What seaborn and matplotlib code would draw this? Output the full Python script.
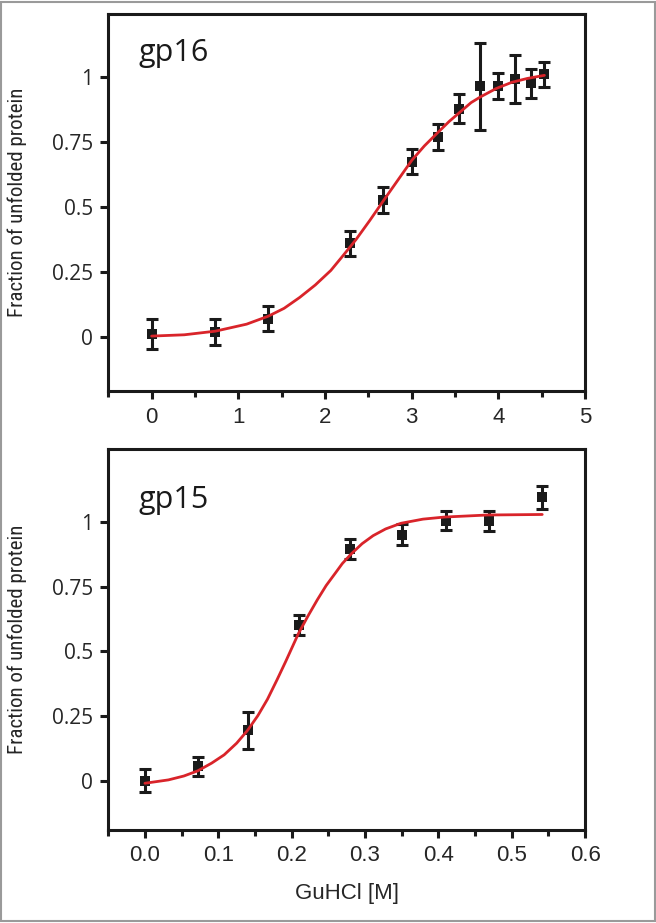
import numpy as np
import pandas as pd
import seaborn as sns
import matplotlib.pyplot as plt
from matplotlib import font_manager
from matplotlib.patches import Rectangle
from matplotlib.ticker import MultipleLocator

# gp16 measured points (GuHCl [M], fraction unfolded, error)
gp16_x = [0.0, 0.73, 1.34, 2.29, 2.67, 3.0, 3.30, 3.55, 3.79, 4.0, 4.19, 4.37, 4.53]
gp16_y = [0.012, 0.02, 0.07, 0.36, 0.529, 0.675, 0.772, 0.88, 0.966, 0.966, 0.993, 0.977, 1.012]
gp16_err = [0.057, 0.05, 0.049, 0.049, 0.05, 0.049, 0.05, 0.057, 0.167, 0.05, 0.093, 0.057, 0.049]

# gp16 fitted curve
gp16_fit_x = [0.0, 0.377, 0.737, 1.096, 1.348, 1.528, 1.708, 1.888, 2.067, 2.21, 2.355, 2.517,
              2.678, 2.84, 3.002, 3.146, 3.29, 3.434, 3.577, 3.685, 3.793, 3.973, 4.153, 4.333, 4.53]
gp16_fit_y = [0.003, 0.008, 0.022, 0.049, 0.08, 0.11, 0.152, 0.2, 0.256, 0.314, 0.374, 0.449,
              0.527, 0.604, 0.681, 0.736, 0.784, 0.831, 0.872, 0.903, 0.925, 0.957, 0.981, 0.996, 1.008]

# gp15 measured points
gp15_x = [0.0, 0.072, 0.141, 0.210, 0.280, 0.350, 0.410, 0.469, 0.5415]
gp15_y = [0.0, 0.055, 0.195, 0.603, 0.897, 0.951, 1.006, 1.006, 1.097]
gp15_err = [0.044, 0.038, 0.071, 0.039, 0.038, 0.041, 0.037, 0.038, 0.044]

# gp15 fitted curve
gp15_fit_x = [0.0, 0.032, 0.053, 0.072, 0.091, 0.108, 0.125, 0.14, 0.154, 0.167, 0.18, 0.192,
              0.209, 0.222, 0.235, 0.247, 0.26, 0.269, 0.281, 0.296, 0.311, 0.328, 0.349,
              0.379, 0.408, 0.467, 0.5415]
gp15_fit_y = [-0.01, 0.003, 0.018, 0.038, 0.068, 0.1, 0.145, 0.195, 0.252, 0.315, 0.39, 0.462,
              0.568, 0.636, 0.70, 0.755, 0.805, 0.84, 0.877, 0.917, 0.948, 0.974, 0.996,
              1.012, 1.02, 1.028, 1.03]

x_ticks_top = [0, 1, 2, 3, 4, 5]
x_ticks_bottom = [0.0, 0.1, 0.2, 0.3, 0.4, 0.5, 0.6]
y_ticks = [0, 0.25, 0.5, 0.75, 1]
y_ticklabels = ['0', '0.25', '0.5', '0.75', '1']

sns.set_theme(style='ticks')
plt.rcParams['font.family'] = ['Liberation Sans', 'DejaVu Sans']

installed = {f.name for f in font_manager.fontManager.ttflist}
narrow = next((n for n in ['Liberation Sans Narrow', 'DejaVu Sans Condensed', 'Roboto Condensed',
                           'Open Sans Condensed', 'Noto Sans'] if n in installed), 'DejaVu Sans')

fig = plt.figure(figsize=(6.56, 9.23), dpi=100)
ax1 = fig.add_axes([0.165, 0.576, 0.727, 0.409])
ax2 = fig.add_axes([0.165, 0.101, 0.727, 0.413])

panels = [
    (ax1, gp16_x, gp16_y, gp16_err, gp16_fit_x, gp16_fit_y, 'gp16',
     (-0.5, 5), (-0.21, 1.245), x_ticks_top, 0.5, [str(t) for t in x_ticks_top], 0.897),
    (ax2, gp15_x, gp15_y, gp15_err, gp15_fit_x, gp15_fit_y, 'gp15',
     (-0.05, 0.6), (-0.19, 1.285), x_ticks_bottom, 0.05, [f'{t:.1f}' for t in x_ticks_bottom], 0.866),
]

for ax, x, y, err, fx, fy, name, xlim, ylim, xt, minor, xtl, ty in panels:
    fit = pd.DataFrame({'x': fx, 'y': fy})
    sns.lineplot(data=fit, x='x', y='y', ax=ax, color='#d9242a', lw=2.0, zorder=3)
    ax.errorbar(x, y, yerr=err, fmt='none', ecolor='#1a1a1a', elinewidth=2.2,
                capsize=4.5, capthick=2.2, zorder=2)
    pts = pd.DataFrame({'x': x, 'y': y})
    sns.scatterplot(data=pts, x='x', y='y', ax=ax, marker='s', s=60, color='#1a1a1a',
                    edgecolor='#1a1a1a', linewidth=0, zorder=2)
    ax.set_xlim(*xlim)
    ax.set_ylim(*ylim)
    ax.set_xticks(xt)
    ax.set_xticklabels(xtl, fontsize=16, family=['Liberation Sans', 'DejaVu Sans'])
    ax.xaxis.set_minor_locator(MultipleLocator(minor))
    ax.set_yticks(y_ticks)
    ax.set_yticklabels(y_ticklabels, fontsize=15, family=['Open Sans', 'DejaVu Sans'])
    for s in ax.spines.values():
        s.set_visible(True)
        s.set_linewidth(2.2)
        s.set_color('#1a1a1a')
    ax.tick_params(axis='both', which='major', direction='out', length=6, width=2.2,
                   color='#1a1a1a', pad=5)
    ax.tick_params(axis='x', which='minor', direction='out', length=4, width=2.2, color='#1a1a1a')
    ax.set_xlabel('')
    ax.set_ylabel('Fraction of unfolded protein', fontsize=15,
                  family=[narrow, 'DejaVu Sans'], fontstretch='condensed')
    ax.yaxis.set_label_coords(-0.17, 0.5)
    ax.text(0.063, ty, name, transform=ax.transAxes, fontsize=22, va='center', ha='left',
            family=['Open Sans', 'DejaVu Sans'], color='#1a1a1a')

ax2.set_xlabel('GuHCl [M]', fontsize=16, labelpad=12)

fig.add_artist(Rectangle((0.002, 0.002), 0.996, 0.996, transform=fig.transFigure,
                         fill=False, edgecolor='#9a9a9a', lw=1.5))

fig.savefig('out.png', dpi=100, facecolor='white')
